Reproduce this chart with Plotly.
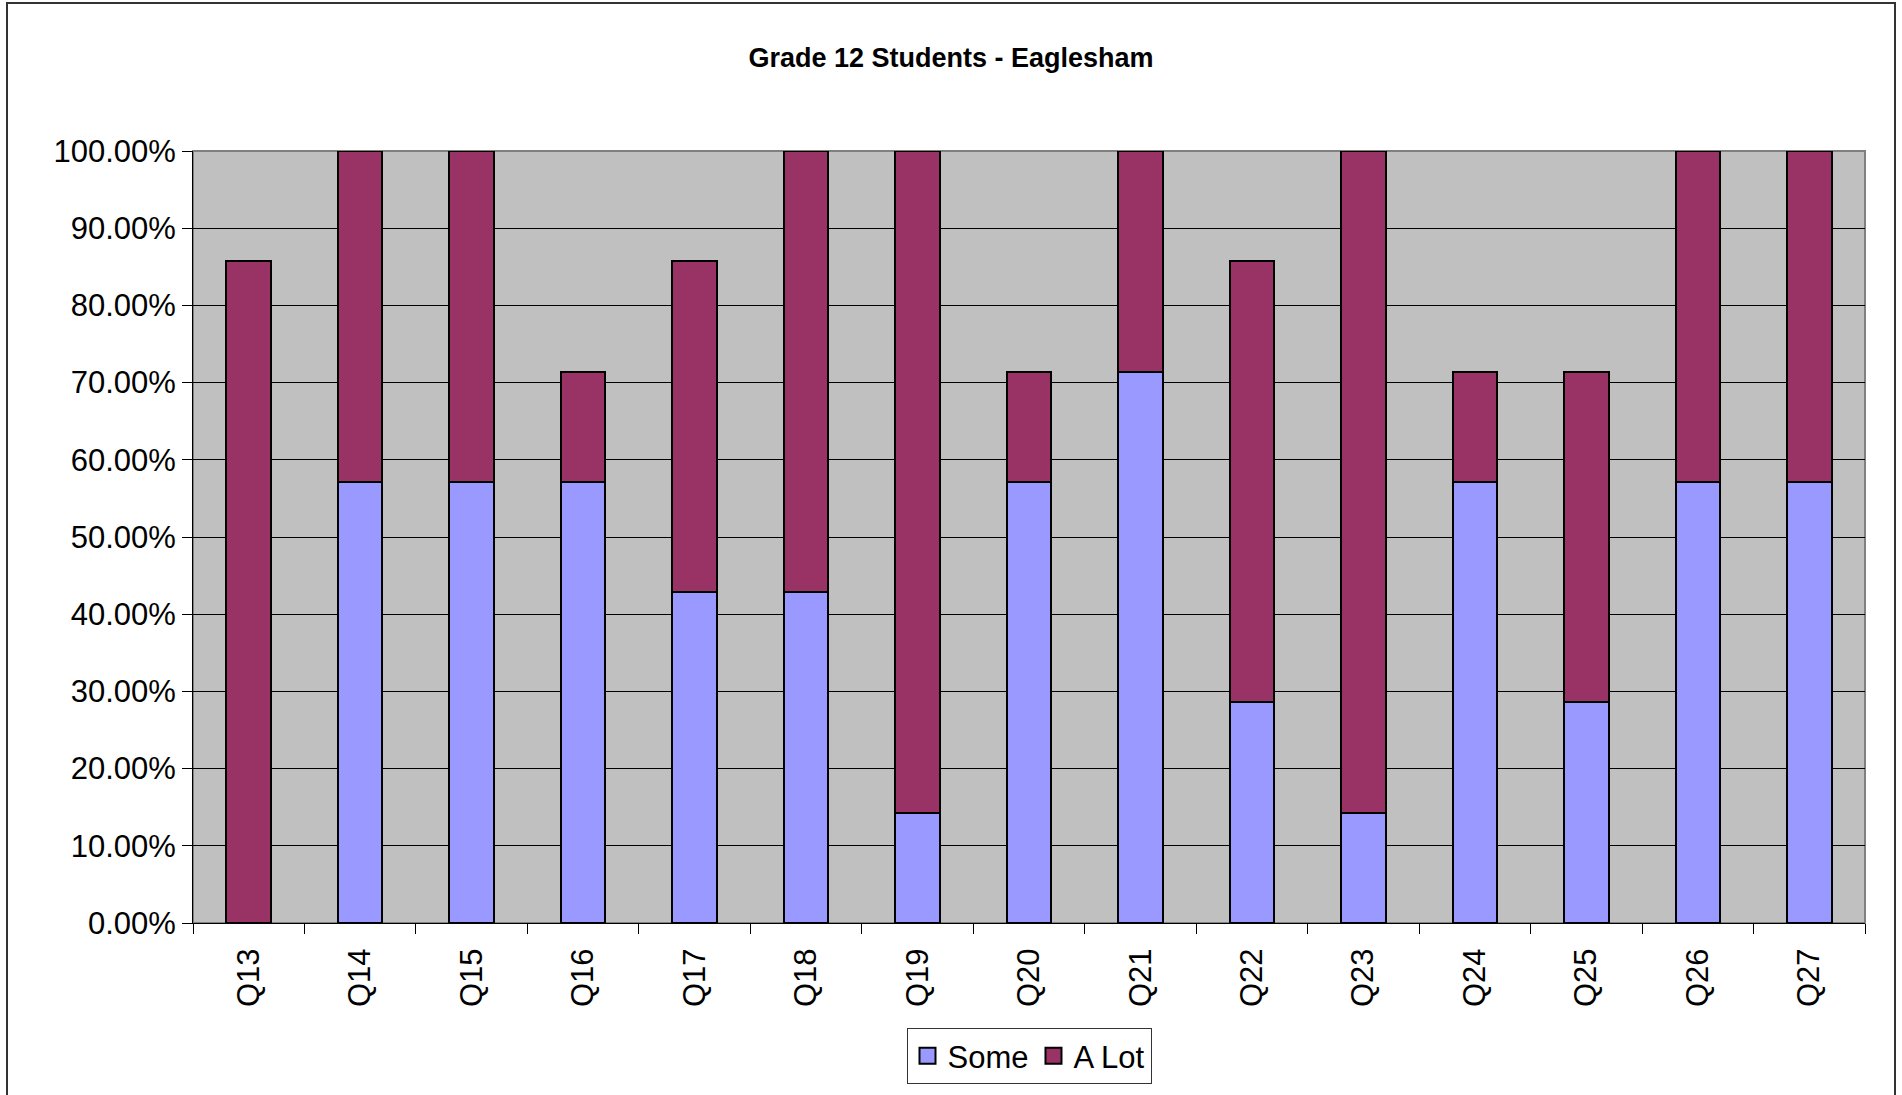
import plotly.graph_objects as go

categories = ["Q13", "Q14", "Q15", "Q16", "Q17", "Q18", "Q19", "Q20", "Q21", "Q22", "Q23", "Q24", "Q25", "Q26", "Q27"]
some = [0.0, 0.5714, 0.5714, 0.5714, 0.4286, 0.4286, 0.1429, 0.5714, 0.7143, 0.2857, 0.1429, 0.5714, 0.2857, 0.5714, 0.5714]
a_lot = [0.8571, 0.4286, 0.4286, 0.1429, 0.4286, 0.5714, 0.8571, 0.1429, 0.2857, 0.5714, 0.8571, 0.1429, 0.4286, 0.4286, 0.4286]
y_ticks = [0, 0.1, 0.2, 0.3, 0.4, 0.5, 0.6, 0.7, 0.8, 0.9, 1.0]
series_names = ["Some", "A Lot"]
series_colors = ["#9999FF", "#993366"]

FONT = "Arial, Liberation Sans, sans-serif"

fig = go.Figure()
for name, vals, col in zip(series_names, [some, a_lot], series_colors):
    fig.add_trace(go.Bar(x=categories, y=vals, name=name, showlegend=False,
                         marker=dict(color=col, line=dict(color="black", width=2))))
# legend entries with square swatches
for name, col in zip(series_names, series_colors):
    fig.add_trace(go.Scatter(x=[None], y=[None], mode="markers", name=name,
                             marker=dict(symbol="square", size=20, color=col,
                                         line=dict(color="black", width=2))))

fig.update_layout(
    barmode="stack",
    bargap=0.6,
    width=1902, height=1095,
    margin=dict(l=193, r=37, t=151, b=172, autoexpand=False),
    paper_bgcolor="white",
    plot_bgcolor="#C0C0C0",
    font=dict(family=FONT, color="black", size=31),
    title=dict(text="<b>Grade 12 Students - Eaglesham</b>", x=0.5, xref="container",
               xanchor="center", y=1 - 58 / 1095, yanchor="middle",
               font=dict(family=FONT, size=27, color="black")),
    showlegend=True,
    legend=dict(orientation="h", x=0.5, xanchor="center", xref="paper",
                y=-(1028 - 923) / 772, yanchor="top", yref="paper",
                bordercolor="#333333", borderwidth=1, bgcolor="white",
                font=dict(family=FONT, size=31), itemwidth=30,
                tracegroupgap=0, traceorder="normal"),
    xaxis=dict(type="category", tickangle=-90, tickson="boundaries",
               ticks="outside", ticklen=10, tickcolor="black",
               showline=True, linecolor="black", linewidth=1, mirror=False,
               showgrid=False, automargin=False, ticklabelstandoff=12,
               tickfont=dict(family=FONT, size=31)),
    yaxis=dict(range=[0, 1], tickvals=y_ticks, tickformat=".2%",
               ticks="outside", ticklen=10, tickcolor="black",
               showline=True, linecolor="black", linewidth=1,
               showgrid=True, gridcolor="black", gridwidth=1, automargin=False,
               zeroline=False, tickfont=dict(family=FONT, size=31)),
)

# plot-area top/right grey border
fig.add_shape(type="rect", xref="paper", yref="paper", x0=0, y0=0, x1=1, y1=1,
              line=dict(color="#808080", width=2), fillcolor="rgba(0,0,0,0)", layer="below")
# outer chart border
fig.add_shape(type="rect", xref="paper", yref="paper",
              x0=(7 - 193) / 1672, x1=(1895 - 193) / 1672,
              y0=-0.3, y1=(923 - 3) / 772,
              line=dict(color="#333333", width=2), fillcolor="rgba(0,0,0,0)")

fig.write_html("out.html", config={"displayModeBar": False},
               post_script="document.body.style.margin='0';document.body.style.overflow='hidden';")
